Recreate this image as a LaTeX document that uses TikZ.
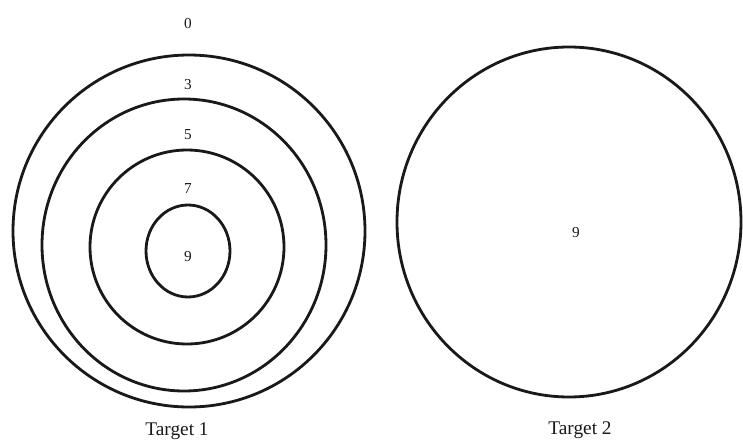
\documentclass[tikz,border=0pt]{standalone}
\usepackage{fontspec}
\setmainfont{Liberation Serif}
\usetikzlibrary{positioning}
\definecolor{ringgray}{RGB}{25,25,25}

\begin{document}
\begin{tikzpicture}[
    x=0.03cm, y=-0.03cm,
    ring/.style={draw=ringgray, line width=2.4pt},
    score/.style={font=\fontsize{13}{15}\selectfont, text=ringgray, inner sep=0pt},
    caption/.style={font=\fontsize{16.5}{18}\selectfont, text=ringgray, inner sep=0pt},
]
\useasboundingbox (0,0) rectangle (743,445);

% target 1
\coordinate (c1) at (189,231);
\coordinate (c2) at (184,245);
\coordinate (c3) at (187,247);
\coordinate (c4) at (188,251);
\draw[ring] (c1) circle[radius=176];
\draw[ring] (c2) circle[x radius=142, y radius=146];
\draw[ring] (c3) circle[radius=97];
\draw[ring] (c4) circle[x radius=42, y radius=46];

\node[score] (s0) at (188,24) {0};
\node[score] (s3) at (188,85) {3};
\node[score] (s5) at (188,135) {5};
\node[score] (s7) at (188,189) {7};
\node[score] (s9) at (188,257) {9};
\node[caption] (t1) at (177,431) {Target 1};

% target 2
\coordinate (d1) at (569,222);
\draw[ring] (d1) circle[x radius=172, y radius=175];
\node[score] (q9) at (576,233) {9};
\node[caption] (t2) at (580,430) {Target 2};
\end{tikzpicture}
\end{document}
